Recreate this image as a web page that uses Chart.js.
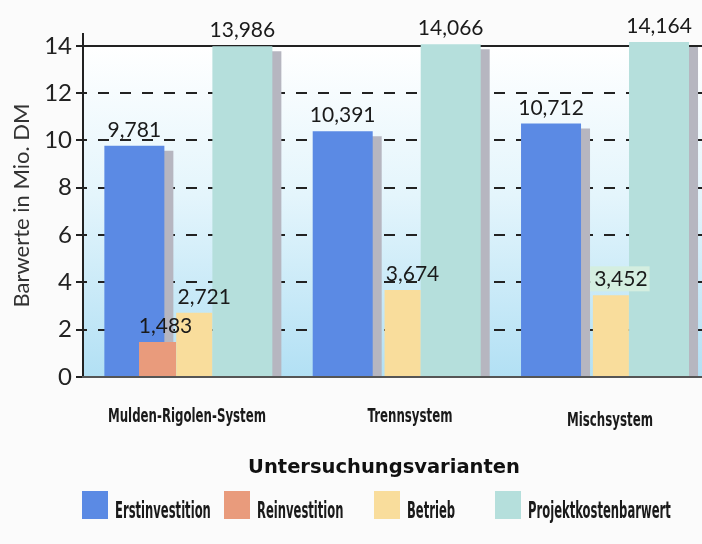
<!DOCTYPE html>
<html lang="de">
<head>
<meta charset="utf-8">
<title>Barwerte der Untersuchungsvarianten</title>
<script src="https://cdn.jsdelivr.net/npm/chart.js@4.4.1/dist/chart.umd.min.js"></script>
<style>
  html, body { margin: 0; padding: 0; overflow: hidden; background: #fbfbfb; }
  #frame { position: relative; width: 702px; height: 544px; overflow: hidden; background: #fbfbfb; }
  #chart { position: absolute; left: 0; top: 0; }
  #groupTitle {
    position: absolute; top: 457px; left: 384px; transform: translateX(-50%);
    font: bold 19.5px/19.5px "DejaVu Sans", sans-serif; color: #111; white-space: nowrap;
  }
  .cat {
    position: absolute; white-space: nowrap;
    font: bold 19px/19px "DejaVu Sans Condensed", "DejaVu Sans", sans-serif; color: #1a1a1a;
    transform: translateX(-50%) scaleX(0.69); transform-origin: 50% 0;
  }
  .item { position: absolute; top: 491px; height: 28px; }
  .swatch { position: absolute; left: 0; top: 0; width: 26px; height: 28px; }
  .name {
    position: absolute; left: 33px; top: 8px;
    font: bold 23px/23px "DejaVu Sans Condensed", "DejaVu Sans", sans-serif;
    color: #1a1a1a; transform: scaleX(0.56); transform-origin: 0 0; white-space: nowrap;
  }
</style>
</head>
<body>
<div id="frame">
  <canvas id="chart" width="708" height="544"></canvas>
  <div id="groupTitle">Untersuchungsvarianten</div>
  <div id="legend"></div>
</div>
<script>
// Present values (Barwerte) in million DM per drainage variant
const categories = ['Mulden-Rigolen-System', 'Trennsystem', 'Mischsystem'];
const seriesNames = ['Erstinvestition', 'Reinvestition', 'Betrieb', 'Projektkostenbarwert'];
const erstinvestition = [9.781, 10.391, 10.712];
const reinvestition = [1.483, null, null];
const betrieb = [2.721, 3.674, 3.452];
const projektkostenbarwert = [13.986, 14.066, 14.164];
const yTickMax = 14;
const yTickStep = 2;

const seriesColors = ['#5b8ae4', '#e99b7c', '#f9dd9c', '#b5dfdc'];
const seriesValues = [erstinvestition, reinvestition, betrieb, projektkostenbarwert];

// Slot geometry per series (the grouped layout places each bar within its category band)
const slotLayout = [
  { order: 1, categoryPercentage: 2.0275, barPercentage: 0.5682 },
  { order: 0, categoryPercentage: 0.3795, barPercentage: 1.872 },
  { order: 2, categoryPercentage: 0.2707, barPercentage: 2.553 },
  { order: 3, categoryPercentage: 0.7066, barPercentage: 1.630 }
];

const datasets = seriesNames.map((name, i) => Object.assign({
  label: name,
  data: seriesValues[i],
  backgroundColor: seriesColors[i],
  borderWidth: 0,
  clip: 0
}, slotLayout[i]));

// Soft blue gradient behind the plot, from the top gridline down to the base line
const plotBackground = {
  id: 'plotBackground',
  beforeDraw(chart, args, opts) {
    const { ctx, chartArea: a, scales: { y } } = chart;
    const top = y.getPixelForValue(yTickMax);
    const bottom = y.getPixelForValue(0);
    const g = ctx.createLinearGradient(0, top, 0, bottom);
    opts.stops.forEach(([o, c]) => g.addColorStop(o, c));
    ctx.save();
    ctx.fillStyle = g;
    ctx.fillRect(a.left, top, a.right - a.left, bottom - top);
    ctx.restore();
  }
};

// Flat grey drop shadow to the right of selected series
const barShadow = {
  id: 'barShadow',
  beforeDatasetDraw(chart, args, opts) {
    const ctx = chart.ctx;
    ctx.save();
    if (opts.datasets.includes(args.index)) {
      ctx.shadowColor = opts.color;
      ctx.shadowOffsetX = opts.dx;
      ctx.shadowOffsetY = opts.dy;
      ctx.shadowBlur = 0;
    }
  },
  afterDatasetDraw(chart) {
    chart.ctx.restore();
  }
};

// Value above each bar, German decimal comma
const valueLabels = {
  id: 'valueLabels',
  afterDatasetsDraw(chart, args, opts) {
    const ctx = chart.ctx;
    ctx.save();
    ctx.font = opts.font;
    ctx.textAlign = 'center';
    ctx.textBaseline = 'alphabetic';
    chart.data.datasets.forEach((ds, di) => {
      const meta = chart.getDatasetMeta(di);
      meta.data.forEach((bar, i) => {
        const v = ds.data[i];
        if (v === null || v === undefined) return;
        const text = v.toFixed(3).replace('.', ',');
        const x = bar.x + (opts.shift[di] || 0);
        const y = bar.y - opts.gap;
        const back = opts.backdrops.find(b => b.dataset === di && b.index === i);
        if (back) {
          const w = ctx.measureText(text).width;
          ctx.fillStyle = back.color;
          ctx.fillRect(x - w / 2 - 4, y - 20, w + 6, 25);
        }
        ctx.fillStyle = opts.color;
        ctx.fillText(text, x, y);
      });
    });
    ctx.restore();
  }
};

const chart = new Chart(document.getElementById('chart'), {
  type: 'bar',
  data: { labels: categories, datasets },
  options: {
    responsive: false,
    animation: false,
    layout: { padding: { top: 34, right: 0, bottom: 107, left: 0 } },
    plugins: {
      legend: { display: false },
      tooltip: { enabled: false },
      plotBackground: { stops: [[0, '#ffffff'], [0.45, '#e4f5fc'], [1, '#b2e0f4']] },
      barShadow: { datasets: [0, 3], color: '#b6b6c0', dx: 9, dy: 5 },
      valueLabels: {
        font: '21px Lato, "DejaVu Sans", sans-serif',
        color: '#1a1a1a',
        gap: 9,
        shift: [0, 8, 10, 0],
        backdrops: [{ dataset: 2, index: 2, color: '#d4eee0' }]
      }
    },
    scales: {
      x: {
        offset: true,
        grid: { display: false, drawTicks: false },
        border: { display: true, color: '#555', width: 2, z: 1 },
        ticks: { display: false },
        afterFit(scale) { scale.height = 60; }
      },
      y: {
        min: 0,
        max: 14.5,
        ticks: {
          stepSize: yTickStep,
          includeBounds: false,
          font: { family: 'Lato, "DejaVu Sans", sans-serif', size: 24 },
          color: '#222',
          padding: 4
        },
        grid: {
          color: c => (c.tick && c.tick.value === 0) ? 'rgba(0,0,0,0)' : '#222',
          lineWidth: 2,
          tickLength: 7,
          tickColor: '#222',
          tickWidth: 2
        },
        border: {
          display: true,
          color: '#222',
          width: 2,
          dash: c => (c.tick && c.tick.value < yTickMax) ? [11, 11] : [],
          dashOffset: 8
        },
        title: {
          display: true,
          text: 'Barwerte in Mio. DM',
          font: { family: 'Lato, "DejaVu Sans", sans-serif', size: 22 },
          color: '#333',
          padding: { top: 9, bottom: 0 }
        },
        afterFit(scale) { scale.width = 83; }
      }
    }
  },
  plugins: [plotBackground, barShadow, valueLabels]
});

const frame = document.getElementById('frame');

// Category names placed at the x scale's tick positions, in a condensed face
const catNudgeX = [0, 14, 6];
const catTop = [406, 406, 410];
const xScale = chart.scales.x;
categories.forEach((c, i) => {
  const d = document.createElement('div');
  d.className = 'cat';
  d.textContent = c;
  d.style.left = (xScale.getPixelForTick(i) + catNudgeX[i]) + 'px';
  d.style.top = catTop[i] + 'px';
  frame.appendChild(d);
});

// Legend built from the chart's own datasets
const legendLeft = [82, 224, 374, 495];
const legend = document.getElementById('legend');
chart.data.datasets.forEach((ds, i) => {
  const item = document.createElement('div');
  item.className = 'item';
  item.style.left = legendLeft[i] + 'px';
  const sw = document.createElement('div');
  sw.className = 'swatch';
  sw.style.background = ds.backgroundColor;
  const name = document.createElement('div');
  name.className = 'name';
  name.textContent = ds.label;
  item.appendChild(sw);
  item.appendChild(name);
  legend.appendChild(item);
});
</script>
</body>
</html>
